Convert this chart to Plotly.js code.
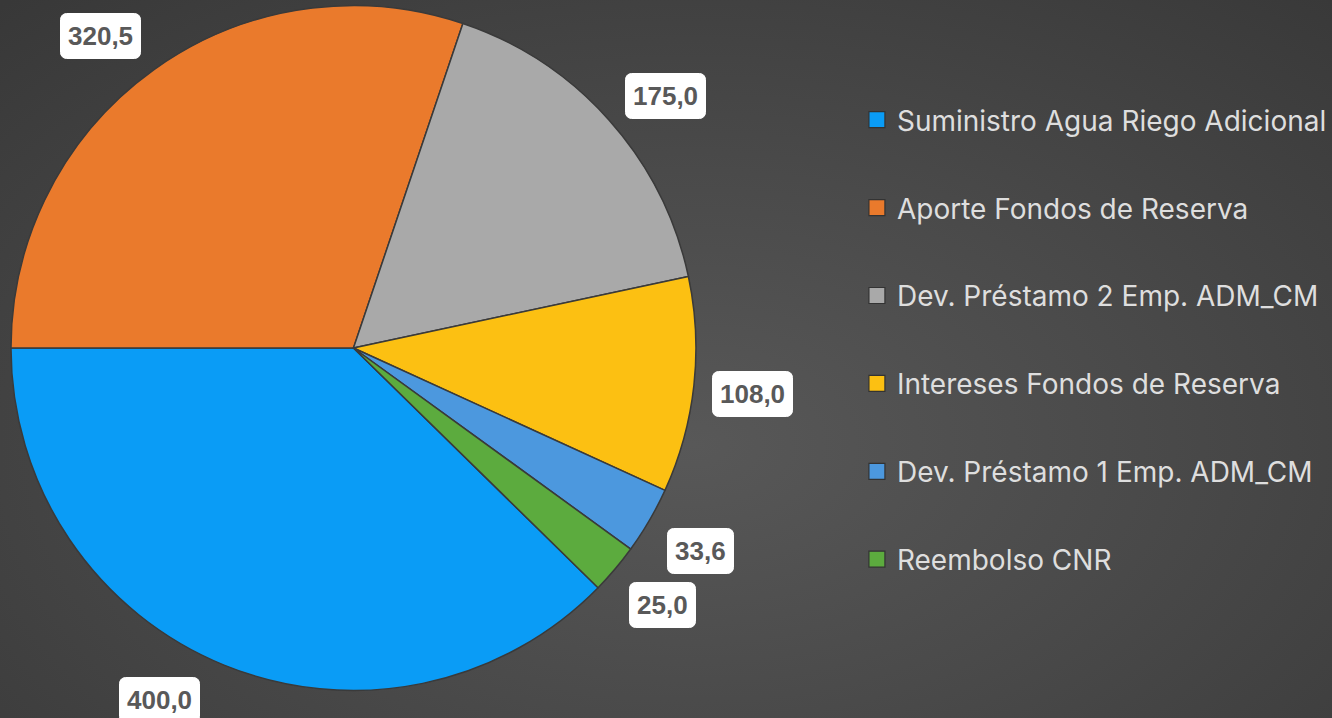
<!DOCTYPE html>
<html>
<head>
<meta charset="utf-8">
<script src="https://cdn.plot.ly/plotly-3.0.1.min.js"></script>
<style>
  html, body { margin: 0; padding: 0; width: 1332px; height: 718px; overflow: hidden; }
  body { background: radial-gradient(ellipse 75% 85% at 52% 62%, #585858 0%, #4a4a4a 45%, #383838 100%); }
  #chart { width: 1332px; height: 718px; }
</style>
</head>
<body>
<div id="chart"></div>
<script>
// ---- data ----
const categories = [
  "Suministro Agua Riego Adicional",
  "Aporte Fondos de Reserva",
  "Dev. Préstamo 2 Emp. ADM_CM",
  "Intereses Fondos de Reserva",
  "Dev. Préstamo 1 Emp. ADM_CM",
  "Reembolso CNR"
];
const values = [400.0, 320.5, 175.0, 108.0, 33.6, 25.0];
const valueLabels = ["400,0", "320,5", "175,0", "108,0", "33,6", "25,0"];

// ---- style ----
const colors = ["#0a9cf6", "#ea7a2c", "#a9a9a9", "#fcc012", "#4c98de", "#5cab3e"];
const labelAngleShift = [0, -3.3, 2.8, 0.3, 0, -0.5];
const W = 1332, H = 718;
const pieLeft = 11, pieRight = 697, pieTop = 5, pieBottom = 691;
const cx = (pieLeft + pieRight) / 2, cy = (pieTop + pieBottom) / 2;
const labelDist = 402, labelMaxY = 700;

const total = values.reduce((a, b) => a + b, 0);
// first slice ends at 9 o'clock, clockwise
const rotation = 270 - 360 * values[0] / total;

// label annotations placed along slice mid-angles
const annotations = [];
let acc = rotation;
values.forEach((v, i) => {
  const span = 360 * v / total;
  let mid = acc + span / 2 + labelAngleShift[i];
  acc += span;
  let rad = mid * Math.PI / 180;
  let px = cx + labelDist * Math.sin(rad);
  let py = cy - labelDist * Math.cos(rad);
  if (py > labelMaxY) {
    const c = -(labelMaxY - cy) / labelDist;
    let a1 = Math.acos(c) * 180 / Math.PI;
    let cands = [a1, 360 - a1];
    let m = ((mid % 360) + 360) % 360;
    let best = cands.reduce((b, a) => Math.abs(a - m) < Math.abs(b - m) ? a : b);
    rad = best * Math.PI / 180;
    px = cx + labelDist * Math.sin(rad);
    py = cy - labelDist * Math.cos(rad);
  }
  annotations.push({
    xref: "paper", yref: "paper",
    x: px / W, y: 1 - py / H,
    xanchor: "center", yanchor: "middle",
    text: valueLabels[i], showarrow: false,
    font: { family: "Liberation Sans, Arial, sans-serif", size: 26, color: "#595959", weight: "bold" },
    bgcolor: "#ffffff", bordercolor: "#ffffff", borderwidth: 1, borderpad: 7
  });
});

const pieTrace = {
  type: "pie",
  values: values,
  labels: categories,
  sort: false,
  direction: "clockwise",
  rotation: rotation,
  textinfo: "none",
  hoverinfo: "label+value",
  showlegend: false,
  marker: { colors: colors, line: { color: "#3a3a3a", width: 1.5 } },
  domain: { x: [pieLeft / W, pieRight / W], y: [1 - pieBottom / H, 1 - pieTop / H] }
};

// legend entries (one per category)
const legendTraces = categories.map((c, i) => ({
  type: "scatter", mode: "markers",
  x: [null], y: [null],
  name: c, legendgroup: "g" + i,
  marker: { symbol: "square", size: 16, color: colors[i], line: { color: "#333333", width: 1.2 } },
  hoverinfo: "skip"
}));

const layout = {
  width: W, height: H,
  margin: { l: 0, r: 0, t: 0, b: 0 },
  paper_bgcolor: "rgba(0,0,0,0)",
  plot_bgcolor: "rgba(0,0,0,0)",
  xaxis: { visible: false }, yaxis: { visible: false },
  showlegend: true,
  legend: {
    x: 0.6443, y: 1 - 95 / H, xanchor: "left", yanchor: "top",
    font: { family: "Inter, Open Sans, sans-serif", size: 28, color: "#dedede" },
    bgcolor: "rgba(0,0,0,0)",
    tracegroupgap: 48.5,
    itemclick: false, itemdoubleclick: false
  },
  annotations: annotations
};

Plotly.newPlot("chart", [pieTrace].concat(legendTraces), layout, { displayModeBar: false, staticPlot: true }).then(() => {
  document.querySelectorAll(".annotation-text-g rect.bg").forEach(r => {
    r.setAttribute("rx", 6);
    r.setAttribute("ry", 6);
  });
});
</script>
</body>
</html>
